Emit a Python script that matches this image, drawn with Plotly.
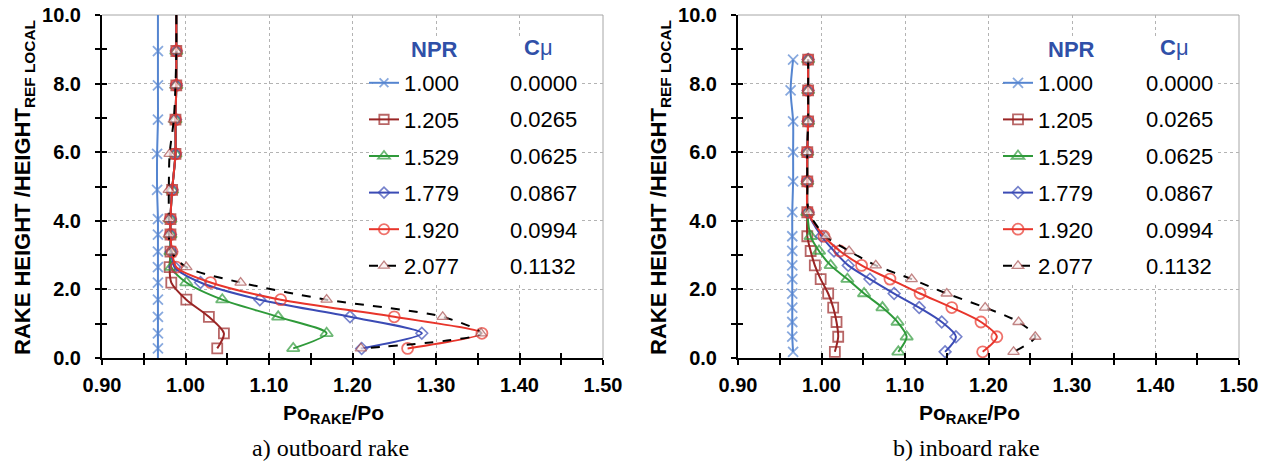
import plotly.graph_objects as go

W, H = 1271, 464

# ---------------- data ----------------
npr_labels = ["1.000", "1.205", "1.529", "1.779", "1.920", "2.077"]
cmu_labels = ["0.0000", "0.0265", "0.0625", "0.0867", "0.0994", "0.1132"]

# a) outboard rake : rake heights (top -> bottom); 10.0 is where the curves leave the top of the axis
out_height = [10.0, 8.95, 7.95, 6.95, 5.95, 4.9, 4.05, 3.6, 3.1, 2.65, 2.2, 1.7, 1.2, 0.72, 0.28]
out_height_1000 = [10.0, 8.95, 7.95, 6.95, 5.95, 4.9, 4.05, 3.6, 3.1, 2.65, 2.2, 1.7, 1.2, 0.72, 0.28, 0.0]
out_1000 = [0.967, 0.967, 0.967, 0.967, 0.966, 0.966, 0.967, 0.967, 0.967, 0.967, 0.967, 0.967, 0.967, 0.967, 0.967, 0.967]
out_1205 = [0.989, 0.989, 0.989, 0.988, 0.988, 0.984, 0.982, 0.982, 0.982, 0.981, 0.983, 1.001, 1.028, 1.046, 1.038]
out_1529 = [0.989, 0.989, 0.989, 0.988, 0.988, 0.984, 0.982, 0.982, 0.982, 0.983, 1.001, 1.044, 1.111, 1.169, 1.129]
out_1779 = [0.989, 0.989, 0.989, 0.988, 0.988, 0.984, 0.982, 0.982, 0.983, 0.987, 1.018, 1.089, 1.197, 1.283, 1.211]
out_1920 = [0.989, 0.989, 0.989, 0.988, 0.988, 0.984, 0.982, 0.982, 0.984, 0.989, 1.030, 1.114, 1.250, 1.355, 1.266]
out_2077 = [0.989, 0.989, 0.988, 0.986, 0.981, 0.980, 0.980, 0.980, 0.983, 1.001, 1.066, 1.169, 1.308, 1.354, 1.210]

# b) inboard rake : rake heights (top -> bottom)
in_height = [8.7, 7.8, 6.9, 6.0, 5.15, 4.25, 3.55, 3.12, 2.7, 2.3, 1.88, 1.47, 1.05, 0.62, 0.18]
in_1000 = [0.966, 0.963, 0.966, 0.966, 0.966, 0.965, 0.965, 0.965, 0.965, 0.965, 0.965, 0.965, 0.965, 0.965, 0.966]
in_1205 = [0.984, 0.984, 0.984, 0.983, 0.983, 0.983, 0.983, 0.987, 0.992, 0.999, 1.008, 1.014, 1.018, 1.020, 1.016]
in_1529 = [0.984, 0.984, 0.984, 0.983, 0.983, 0.983, 0.987, 0.997, 1.011, 1.031, 1.051, 1.073, 1.091, 1.102, 1.092]
in_1779 = [0.984, 0.984, 0.984, 0.983, 0.983, 0.984, 1.000, 1.015, 1.032, 1.058, 1.087, 1.117, 1.144, 1.161, 1.148]
in_1920 = [0.984, 0.984, 0.984, 0.983, 0.983, 0.984, 1.003, 1.022, 1.048, 1.082, 1.118, 1.156, 1.191, 1.210, 1.193]
in_2077 = [0.984, 0.984, 0.984, 0.983, 0.983, 0.985, 1.005, 1.033, 1.065, 1.108, 1.150, 1.196, 1.236, 1.256, 1.230]

x_ticks = [0.90, 1.00, 1.10, 1.20, 1.30, 1.40, 1.50]
y_ticks = [0.0, 2.0, 4.0, 6.0, 8.0, 10.0]
captions = ["a) outboard rake", "b) inboard rake"]

# ---------------- styles ----------------
FONT = "Liberation Sans"
styles = [
    dict(color="#5585D0", symbol="x-thin-open", size=10, mlw=1.8, fill=None, dash="solid", lc="#5585D0"),
    dict(color="#9A2525", symbol="square-open", size=10, mlw=1.8, fill=None, dash="solid", lc="#9A2525"),
    dict(color="#2F9A3A", symbol="triangle-up-open", size=11, mlw=1.8, fill=None, dash="solid", lc="#2F9A3A"),
    dict(color="#3B4BB5", symbol="diamond-open", size=9, mlw=1.6, fill=None, dash="solid", lc="#3B4BB5"),
    dict(color="#E8352B", symbol="circle-open", size=11, mlw=1.8, fill=None, dash="solid", lc="#E8352B"),
    dict(color="#A85050", symbol="triangle-up", size=10, mlw=1.3, fill="#FBEFEF", dash="dash", lc="black"),
]


def px_x(p):
    return p / W


def px_y(p):
    return 1 - p / H


fig = go.Figure()

out_series = [(out_height_1000, out_1000), (out_height, out_1205), (out_height, out_1529),
              (out_height, out_1779), (out_height, out_1920), (out_height, out_2077)]
in_series = [(in_height, in_1000), (in_height, in_1205), (in_height, in_1529),
             (in_height, in_1779), (in_height, in_1920), (in_height, in_2077)]

for sub, series in enumerate([out_series, in_series]):
    xa = "x" if sub == 0 else "x2"
    ya = "y" if sub == 0 else "y2"
    lg = "legend" if sub == 0 else "legend2"
    for i, (hs, vs) in enumerate(series):
        st = styles[i]
        sizes = [0 if (h >= 10.0 or h <= 0.0) else st["size"] for h in hs]
        fig.add_trace(go.Scatter(
            x=vs, y=hs, mode="lines+markers", name=npr_labels[i],
            xaxis=xa, yaxis=ya, legend=lg, legendgroup=f"{sub}-{i}",
            line=dict(color=st["lc"], width=2, dash=st["dash"], shape="spline", smoothing=0.8),
            marker=dict(symbol=st["symbol"], size=sizes,
                        color=st["fill"] if st["fill"] else st["color"],
                        line=dict(color=st["color"], width=st["mlw"])),
            hoverinfo="skip",
        ))

# helper (empty) traces to activate the overlaid axes carrying the inner half of the cross ticks
for xa, ya in [("x3", "y"), ("x4", "y2"), ("x", "y3"), ("x2", "y4")]:
    fig.add_trace(go.Scatter(x=[], y=[], xaxis=xa, yaxis=ya, showlegend=False, hoverinfo="skip"))

tickfont = dict(family=FONT, size=20, color="black", weight="bold")
ydom = [px_y(358), px_y(15)]
xdoms = [[px_x(102), px_x(603)], [px_x(738), px_x(1239)]]


def xaxis(dom):
    return dict(domain=dom, range=[0.9, 1.5], tickvals=x_ticks, ticktext=[f"{v:.2f}" for v in x_ticks],
                showline=True, linecolor="black", linewidth=2, mirror=False, automargin=False,
                ticks="outside", ticklen=5, tickwidth=2, tickcolor="black",
                minor=dict(dtick=0.05, tick0=0.9, ticks="outside", ticklen=5, tickwidth=2,
                           tickcolor="black", showgrid=False),
                showgrid=True, gridcolor="#b3b3b3", gridwidth=1, griddash="dot",
                zeroline=False, tickfont=tickfont, ticklabelstandoff=3, fixedrange=True)


def yaxis(anchor):
    return dict(domain=ydom, range=[0, 10], anchor=anchor, tickvals=y_ticks,
                ticktext=[f"{v:.1f}" for v in y_ticks], automargin=False,
                showline=True, linecolor="black", linewidth=2,
                ticks="outside", ticklen=5, tickwidth=2, tickcolor="black",
                minor=dict(dtick=1, tick0=0, ticks="outside", ticklen=5, tickwidth=2,
                           tickcolor="black", showgrid=False),
                showgrid=True, gridcolor="#b3b3b3", gridwidth=1, griddash="dot",
                zeroline=False, tickfont=tickfont, ticklabelstandoff=10, fixedrange=True)


def inner_x(over, anchor):
    return dict(overlaying=over, anchor=anchor, range=[0.9, 1.5], dtick=0.05, tick0=0.9, automargin=False,
                ticks="inside", ticklen=5, tickwidth=2, tickcolor="black",
                showticklabels=False, showgrid=False, showline=False, zeroline=False, fixedrange=True)


def inner_y(over, anchor):
    return dict(overlaying=over, anchor=anchor, range=[0, 10], dtick=1, tick0=0, automargin=False,
                ticks="inside", ticklen=5, tickwidth=2, tickcolor="black",
                showticklabels=False, showgrid=False, showline=False, zeroline=False, fixedrange=True)


shapes = []
for xr, yr in [("x", "y"), ("x2", "y2")]:
    shapes.append(dict(type="line", xref=f"{xr} domain", yref=f"{yr} domain", x0=0, x1=1, y0=1, y1=1,
                       line=dict(color="#a6a6a6", width=1), layer="below"))
    shapes.append(dict(type="line", xref=f"{xr} domain", yref=f"{yr} domain", x0=1, x1=1, y0=0, y1=1,
                       line=dict(color="#a6a6a6", width=1), layer="below"))

# white legend panels
for x0, x1 in [(373, 580), (1007, 1216)]:
    shapes.append(dict(type="rect", xref="paper", yref="paper", x0=px_x(x0), x1=px_x(x1),
                       y0=px_y(282), y1=px_y(36), fillcolor="white", line=dict(width=0), layer="above"))


def ann(text, x, y, size, color="black", family=FONT, xanchor="center", angle=0):
    return dict(text=text, x=px_x(x), y=px_y(y), xref="paper", yref="paper", showarrow=False,
                xanchor=xanchor, yanchor="middle", textangle=angle,
                font=dict(family=family, size=size, color=color))


annotations = []
row_y = [83.3, 120.0, 156.7, 193.3, 230.0, 266.7]
for sub, ax0 in enumerate([102, 738]):
    annotations.append(ann("<b>NPR</b>", ax0 + 333, 50, 22, "#3050A8"))
    annotations.append(ann("<b>C</b>μ", ax0 + 436, 48, 22, "#3050A8"))
    for i, c in enumerate(cmu_labels):
        annotations.append(ann(c, ax0 + 406, row_y[i], 22, xanchor="left"))
    annotations.append(ann("<b>Po<sub>RAKE</sub>/Po</b>", ax0 + 231, 414, 21))
    annotations.append(ann("<b>RAKE HEIGHT /HEIGHT<sub>REF LOCAL</sub></b>", ax0 - 78, 188, 22, angle=-90))
    annotations.append(ann(captions[sub], ax0 + 228, 448, 24, family="Liberation Serif"))

legend_common = dict(yanchor="top", xanchor="left", bgcolor="rgba(0,0,0,0)", borderwidth=0,
                     font=dict(family=FONT, size=22, color="black"), tracegroupgap=5,
                     itemsizing="trace", itemwidth=30, orientation="v")

fig.update_layout(
    width=W, height=H, margin=dict(l=0, r=0, t=0, b=0, autoexpand=False),
    paper_bgcolor="white", plot_bgcolor="white",
    font=dict(family=FONT, color="black"),
    xaxis=xaxis(xdoms[0]), yaxis=yaxis("x"),
    xaxis2=xaxis(xdoms[1]), yaxis2=yaxis("x2"),
    xaxis3=inner_x("x", "y"), xaxis4=inner_x("x2", "y2"),
    yaxis3=inner_y("y", "x"), yaxis4=inner_y("y2", "x2"),
    legend=dict(x=px_x(102 + 262), y=px_y(62), **legend_common),
    legend2=dict(x=px_x(738 + 260), y=px_y(62), **legend_common),
    shapes=shapes, annotations=annotations, showlegend=True,
)

fig.write_html("out.html")
